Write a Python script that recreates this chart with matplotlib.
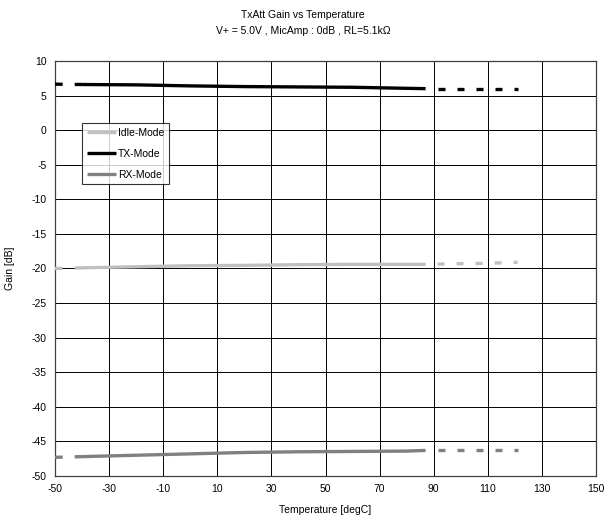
import matplotlib
matplotlib.use("Agg")
import matplotlib.pyplot as plt

plt.rcParams['font.family'] = ['Liberation Sans', 'DejaVu Sans']
plt.rcParams['font.size'] = 7.5
plt.rcParams['axes.unicode_minus'] = False

# temperature points [degC]; index 1..8 measured, ends extrapolated (dashed)
temps = [-50, -40, -20, 0, 20, 40, 60, 80, 87, 100, 110, 121]
idle_gain = [-20.0, -19.9, -19.75, -19.6, -19.55, -19.45, -19.4, -19.4, -19.4, -19.3, -19.25, -19.1]
tx_gain = [6.65, 6.6, 6.55, 6.4, 6.3, 6.25, 6.2, 6.05, 6.0, 6.0, 6.0, 6.0]
rx_gain = [-47.3, -47.2, -47.0, -46.8, -46.6, -46.5, -46.45, -46.4, -46.3, -46.3, -46.3, -46.3]

series = [
    ("Idle-Mode", idle_gain, "#c0c0c0"),
    ("TX-Mode", tx_gain, "#000000"),
    ("RX-Mode", rx_gain, "#808080"),
]

x_ticks = [-50, -30, -10, 10, 30, 50, 70, 90, 110, 130, 150]
y_ticks = list(range(-50, 11, 5))

fig = plt.figure(figsize=(6.06, 5.29), dpi=100)
ax = fig.add_axes([0.0908, 0.1002, 0.8927, 0.7845])

lw = 2.4
for name, vals, col in series:
    ax.plot(temps[1:9], vals[1:9], color=col, lw=lw, label=name,
            solid_capstyle='butt', zorder=3)
    ax.plot(temps[:2], vals[:2], color=col, lw=lw,
            linestyle=(0, (2.3, 3.6)), zorder=3)
    ax.plot(temps[8:], vals[8:], color=col, lw=lw,
            linestyle=(2.1, (2.1, 3.6)), zorder=3)

ax.set_xlim(-50, 150)
ax.set_ylim(-50, 10)
ax.set_xticks(x_ticks)
ax.set_yticks(y_ticks)
ax.grid(True, color='black', lw=0.7)
ax.tick_params(length=0, pad=6)
for s in ax.spines.values():
    s.set_color('#404040')
    s.set_linewidth(0.9)

ax.set_xlabel("Temperature [degC]", labelpad=8)
ax.set_ylabel("Gain [dB]", labelpad=12)

fig.text(0.5, 0.972, "TxAtt Gain vs Temperature", ha='center', va='center')
fig.text(0.5, 0.942, "V+ = 5.0V , MicAmp : 0dB , RL=5.1k\u03a9", ha='center', va='center')

leg = ax.legend(loc='upper left', bbox_to_anchor=(82 / 606, 1 - 123 / 529),
                bbox_transform=fig.transFigure, frameon=True, fancybox=False,
                handlelength=2.8, handletextpad=0.2, borderpad=0.45,
                labelspacing=1.05, borderaxespad=0)
leg.get_frame().set_edgecolor('black')
leg.get_frame().set_linewidth(0.8)

fig.savefig("out.png", dpi=100)
